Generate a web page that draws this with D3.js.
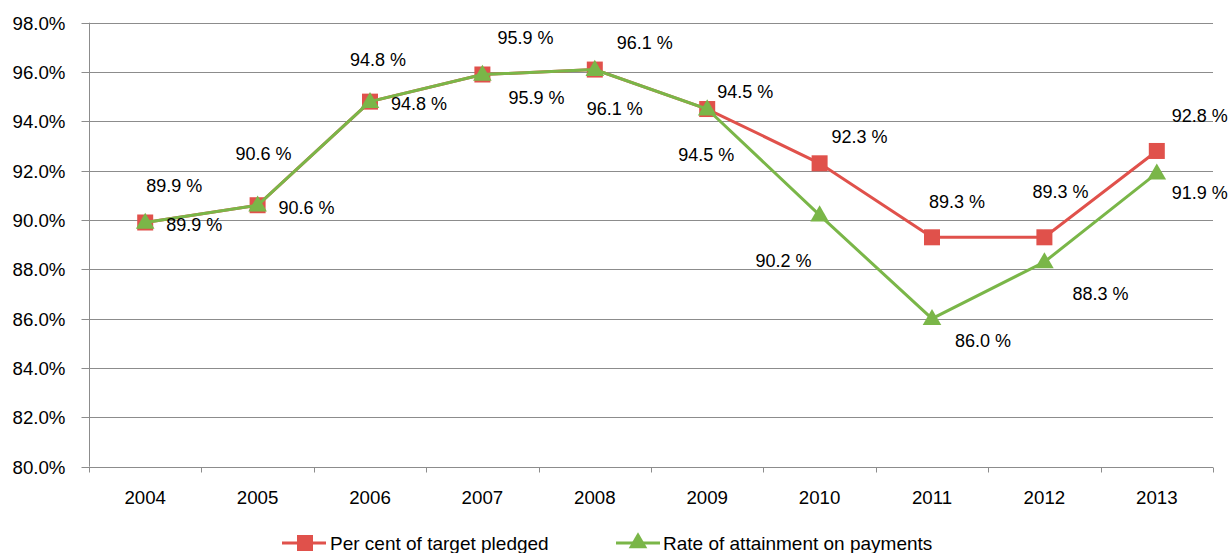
<!DOCTYPE html>
<html><head><meta charset="utf-8">
<script src="https://cdn.jsdelivr.net/npm/d3@7/dist/d3.min.js"></script>
<style>body{margin:0;background:#fff;}svg{display:block;font-family:"Liberation Sans",Arial,sans-serif;}</style>
</head><body>
<svg id="c" width="1231" height="553"></svg>
<script>
const years = ["2004","2005","2006","2007","2008","2009","2010","2011","2012","2013"];
const pledged = [89.9, 90.6, 94.8, 95.9, 96.1, 94.5, 92.3, 89.3, 89.3, 92.8];
const attainment = [89.9, 90.6, 94.8, 95.9, 96.1, 94.5, 90.2, 86.0, 88.3, 91.9];
const yTicks = [80, 82, 84, 86, 88, 90, 92, 94, 96, 98];
const seriesNames = ["Per cent of target pledged", "Rate of attainment on payments"];

// label offsets (layout)
const pledgedOff = [[29,-37],[6,-52],[8,-42],[43,-37],[50,-27],[38,-17],[40,-27],[25,-36],[16,-46],[43,-35]];
const attainOff = [[49,2],[49,2],[49,2],[54,23],[20,39],[-1,46],[-36,46],[51,22],[56,32],[43,20]];

const RED = "#E0514B", GREEN = "#7AB648", GRID = "#8c8c8c";
const svg = d3.select("#c");
const L = 89, R = 1213, T = 22.7, B = 466.7;
const x = d3.scaleBand().domain(years).range([L, R]);
const y = d3.scaleLinear().domain([80, 98]).range([B, T]);
const fsAxis = 18.7, fsLab = 18, fsLeg = 19;

// gridlines
svg.append("g").selectAll("line").data(yTicks.filter(d => d > 80)).join("line")
  .attr("x1", L).attr("x2", R).attr("y1", d => Math.round(y(d)) + 0.5).attr("y2", d => Math.round(y(d)) + 0.5)
  .attr("stroke", GRID).attr("stroke-width", 1);

// y axis
const ya = svg.append("g").attr("transform", `translate(${L + 0.5},0)`)
  .call(d3.axisLeft(y).tickValues(yTicks).tickSize(8).tickPadding(16).tickFormat(d => d.toFixed(1) + "%"));
ya.select(".domain").attr("stroke", GRID).attr("d", `M0,${T}V${B}`);
ya.selectAll(".tick line").attr("stroke", GRID);
ya.selectAll(".tick").attr("transform", d => `translate(0,${Math.round(y(d)) + 0.5})`);
ya.selectAll("text").attr("font-size", fsAxis).attr("fill", "#000").attr("font-family", "Liberation Sans, Arial, sans-serif").attr("dy", "0.35em");

// x axis
const xa = svg.append("g").attr("transform", `translate(0,${Math.round(B) + 0.5})`);
xa.append("line").attr("x1", L).attr("x2", R).attr("stroke", GRID);
const bounds = years.map(d => x(d)).concat([R]);
xa.selectAll("line.tk").data(bounds).join("line").attr("class", "tk")
  .attr("x1", d => Math.round(d) + 0.5).attr("x2", d => Math.round(d) + 0.5).attr("y1", 0).attr("y2", 5).attr("stroke", GRID);
xa.selectAll("text").data(years).join("text")
  .attr("x", d => x(d) + x.bandwidth() / 2).attr("y", 36).attr("text-anchor", "middle")
  .attr("font-size", fsAxis).text(d => d);

const cx = (i) => x(years[i]) + x.bandwidth() / 2;
const line = d3.line().x((d, i) => cx(i)).y(d => y(d));

const tri = d3.symbol().type(d3.symbolTriangle).size(150);

// red series
svg.append("path").attr("d", line(pledged)).attr("fill", "none").attr("stroke", RED).attr("stroke-width", 3);
svg.append("g").selectAll("rect").data(pledged).join("rect")
  .attr("x", (d, i) => cx(i) - 8).attr("y", d => y(d) - 8).attr("width", 16).attr("height", 16).attr("fill", RED);

// green series
svg.append("path").attr("d", line(attainment)).attr("fill", "none").attr("stroke", GREEN).attr("stroke-width", 3);
svg.append("g").selectAll("path").data(attainment).join("path")
  .attr("d", tri).attr("transform", (d, i) => `translate(${cx(i)},${y(d) + 1})`).attr("fill", GREEN);

// labels
const fmt = v => v.toFixed(1) + " %";
svg.append("g").selectAll("text").data(pledged).join("text")
  .attr("x", (d, i) => cx(i) + pledgedOff[i][0]).attr("y", (d, i) => y(d) + pledgedOff[i][1])
  .attr("dy", "0.35em").attr("text-anchor", "middle").attr("font-size", fsLab).text(fmt);
svg.append("g").selectAll("text").data(attainment).join("text")
  .attr("x", (d, i) => cx(i) + attainOff[i][0]).attr("y", (d, i) => y(d) + attainOff[i][1])
  .attr("dy", "0.35em").attr("text-anchor", "middle").attr("font-size", fsLab).text(fmt);

// legend
const lg = svg.append("g");
const ly = 543;
lg.append("line").attr("x1", 282).attr("x2", 326).attr("y1", ly).attr("y2", ly).attr("stroke", RED).attr("stroke-width", 3);
lg.append("rect").attr("x", 297).attr("y", ly - 8).attr("width", 16).attr("height", 16).attr("fill", RED);
lg.append("text").attr("x", 330).attr("y", ly).attr("dy", "0.35em").attr("font-size", fsLeg).text(seriesNames[0]);
lg.append("line").attr("x1", 616).attr("x2", 660).attr("y1", ly).attr("y2", ly).attr("stroke", GREEN).attr("stroke-width", 3);
lg.append("path").attr("d", tri).attr("transform", `translate(638,${ly})`).attr("fill", GREEN);
lg.append("text").attr("x", 663).attr("y", ly).attr("dy", "0.35em").attr("font-size", fsLeg).text(seriesNames[1]);
</script>
</body></html>
